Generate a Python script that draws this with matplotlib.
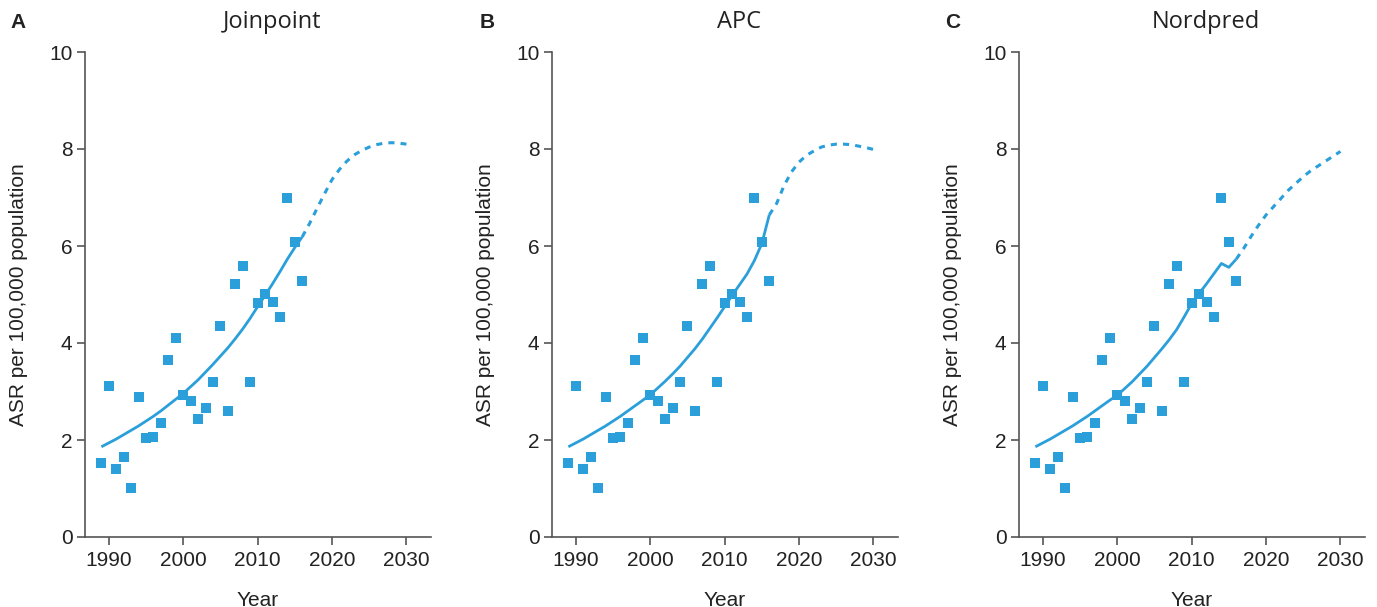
import numpy as np
import matplotlib.pyplot as plt

# observed ASR, 1989-2016
years = list(range(1989, 2017))
asr = [1.53, 3.12, 1.41, 1.64, 1.02, 2.89, 2.05, 2.07, 2.36, 3.64,
       4.11, 2.92, 2.81, 2.44, 2.67, 3.20, 4.36, 2.60, 5.22, 5.59,
       3.20, 4.83, 5.02, 4.85, 4.54, 6.98, 6.09, 5.28]

proj_years = list(range(2016, 2031))

# Joinpoint
jp_fit = [1.86, 1.94, 2.02, 2.11, 2.20, 2.29, 2.39, 2.49, 2.60, 2.72,
          2.84, 2.96, 3.10, 3.24, 3.40, 3.56, 3.73, 3.90, 4.09, 4.29,
          4.51, 4.75, 4.98, 5.22, 5.47, 5.73, 5.97, 6.19]
jp_proj = [6.19, 6.47, 6.78, 7.08, 7.37, 7.58, 7.75, 7.88, 7.97, 8.04,
           8.09, 8.12, 8.13, 8.12, 8.10]

# APC
apc_fit = [1.86, 1.94, 2.02, 2.11, 2.20, 2.29, 2.39, 2.49, 2.60, 2.71,
           2.82, 2.93, 3.07, 3.21, 3.36, 3.52, 3.70, 3.88, 4.08, 4.30,
           4.52, 4.75, 4.98, 5.20, 5.42, 5.70, 6.05, 6.64]
apc_proj = [6.64, 6.88, 7.25, 7.53, 7.73, 7.87, 7.96, 8.04, 8.08, 8.10,
            8.10, 8.09, 8.06, 8.03, 7.99]

# Nordpred
np_fit = [1.86, 1.94, 2.02, 2.11, 2.20, 2.29, 2.39, 2.49, 2.60, 2.71,
          2.82, 2.92, 3.06, 3.20, 3.36, 3.52, 3.70, 3.88, 4.07, 4.28,
          4.54, 4.81, 5.02, 5.22, 5.43, 5.64, 5.56, 5.73]
np_proj = [5.73, 5.95, 6.20, 6.43, 6.64, 6.81, 6.98, 7.15, 7.29, 7.43,
           7.55, 7.65, 7.75, 7.85, 7.95]

panels = [("A", "Joinpoint", jp_fit, jp_proj),
          ("B", "APC", apc_fit, apc_proj),
          ("C", "Nordpred", np_fit, np_proj)]

blue = "#2A9FDA"
plt.rcParams['font.family'] = ['Liberation Sans', 'DejaVu Sans']

fig = plt.figure(figsize=(13.77, 6.07), dpi=100)
lefts = [85, 552, 1019]
letter_x = [18, 487, 953]
title_x = [272, 739, 1206]

for i, (letter, title, fit, proj) in enumerate(panels):
    ax = fig.add_axes([lefts[i] / 1377, 1 - 537 / 607, 346 / 1377, 485 / 607])
    ax.scatter(years, asr, marker="s", s=62, color=blue, linewidths=0, zorder=3)
    ax.plot(years, fit, color=blue, lw=2, solid_capstyle="butt", zorder=2)
    ax.plot(proj_years, proj, color=blue, lw=2.2, linestyle=(0, (2.0, 2.0)), zorder=2)

    ax.set_xlim(1986.8, 2033.3)
    ax.set_ylim(0, 10)
    ax.set_xticks([1990, 2000, 2010, 2020, 2030])
    ax.set_yticks([0, 2, 4, 6, 8, 10])
    for s in ["top", "right"]:
        ax.spines[s].set_visible(False)
    for s in ["left", "bottom"]:
        ax.spines[s].set_color("#555555")
        ax.spines[s].set_linewidth(1.2)
    ax.tick_params(axis="both", length=6, width=1.2, color="#555555",
                   labelsize=15, labelcolor="#222222", pad=3)
    ax.tick_params(axis="x", pad=4)
    ax.set_xlabel("Year", fontsize=15, color="#222222", labelpad=15)
    ax.set_ylabel("ASR per 100,000 population", fontsize=15, color="#222222", labelpad=15)

    fig.text(letter_x[i] / 1377, 1 - 22 / 607, letter, fontsize=15, fontweight="bold",
             ha="center", va="center", color="#222222")
    fig.text(title_x[i] / 1377, 1 - 22 / 607, title, fontsize=17, family="Open Sans",
             ha="center", va="center", color="#222222")

fig.savefig("out.png", dpi=100)
